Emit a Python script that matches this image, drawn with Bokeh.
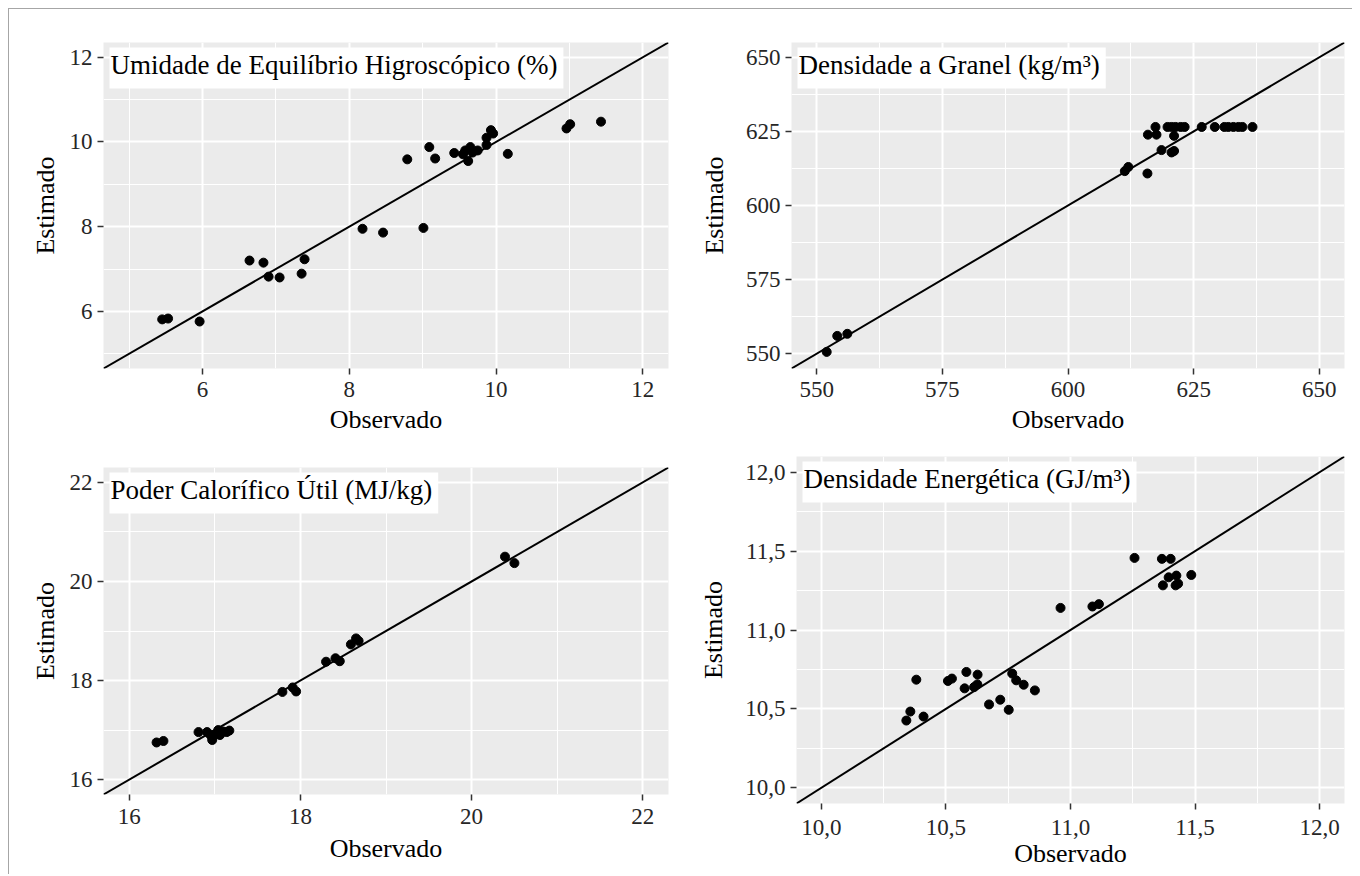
from bokeh.plotting import figure
from bokeh.layouts import column, row
from bokeh.models import Range1d, FixedTicker, Slope, Label, CustomJSTickFormatter
from bokeh.embed import file_html
from bokeh.resources import INLINE

# ---------------- data ----------------
ueh_obs = [5.45, 5.53, 5.96, 6.64, 6.83, 6.90, 7.05, 7.35, 7.39, 8.18, 8.46, 9.01,
           8.79, 9.09, 9.17, 9.43, 9.55, 9.58, 9.62, 9.65, 9.68, 9.75, 9.87, 9.87,
           9.93, 9.96, 10.16, 10.96, 11.01, 11.43]
ueh_est = [5.81, 5.83, 5.76, 7.20, 7.15, 6.82, 6.80, 6.89, 7.23, 7.95, 7.86, 7.97,
           9.59, 9.88, 9.61, 9.74, 9.71, 9.80, 9.55, 9.88, 9.75, 9.80, 9.93, 10.10,
           10.28, 10.20, 9.72, 10.32, 10.42, 10.48]

dg_obs = [552.0, 554.1, 556.1, 611.3, 612.0, 615.8, 615.9, 617.6, 617.4, 618.6,
          619.8, 620.6, 621.4, 622.4, 623.2, 621.1, 620.6, 621.1, 626.6, 629.2,
          631.1, 631.9, 632.9, 633.9, 634.7, 636.7]
dg_est = [550.6, 556.0, 556.7, 611.6, 613.0, 610.8, 623.9, 623.9, 626.5, 618.7,
          626.5, 626.5, 626.5, 626.5, 626.5, 623.5, 617.9, 618.4, 626.5, 626.5,
          626.5, 626.5, 626.5, 626.5, 626.5, 626.5]

pcu_obs = [16.32, 16.40, 16.81, 16.91, 16.95, 16.97, 17.00, 17.04, 17.06, 17.10,
           17.14, 17.17, 17.79, 17.91, 17.95, 18.30, 18.41, 18.46, 18.59, 18.65,
           18.68, 20.39, 20.50]
pcu_est = [16.75, 16.78, 16.96, 16.96, 16.90, 16.80, 16.91, 17.00, 16.90, 16.97,
           16.96, 16.99, 17.77, 17.86, 17.78, 18.38, 18.45, 18.39, 18.73, 18.85,
           18.80, 20.50, 20.37]

de_obs = [10.341, 10.357, 10.381, 10.410, 10.508, 10.524, 10.582, 10.575, 10.613,
          10.626, 10.627, 10.673, 10.718, 10.752, 10.766, 10.782, 10.812, 10.857,
          10.960, 11.088, 11.114, 11.257, 11.367, 11.402, 11.394, 11.425, 11.371,
          11.422, 11.432, 11.485]
de_est = [10.426, 10.483, 10.685, 10.451, 10.677, 10.692, 10.734, 10.630, 10.638,
          10.655, 10.717, 10.528, 10.558, 10.494, 10.724, 10.681, 10.653, 10.617,
          11.140, 11.149, 11.164, 11.457, 11.451, 11.451, 11.334, 11.345, 11.283,
          11.283, 11.294, 11.349]

titles = ["Umidade de Equilíbrio Higroscópico (%)",
          "Densidade a Granel (kg/m³)",
          "Poder Calorífico Útil (MJ/kg)",
          "Densidade Energética (GJ/m³)"]

ueh_limits = (5, 12)
dg_limits = (550, 650)
pcu_limits = (16, 22)
de_limits = (10, 12)

ueh_major = [6, 8, 10, 12]
ueh_minor = [5, 7, 9, 11]
dg_major = [550, 575, 600, 625, 650]
dg_minor = [562.5, 587.5, 612.5, 637.5]
pcu_major = [16, 18, 20, 22]
pcu_minor = [17, 19, 21]
de_major = [10.0, 10.5, 11.0, 11.5, 12.0]
de_minor = [10.25, 10.75, 11.25, 11.75]

FONT = "Liberation Serif"


def make_panel(obs, est, title, limits, major, minor, comma, width, height, borders,
               xstand, ystand):
    bl, br, bt, bb = borders
    lo, hi = limits
    pad = 0.05 * (hi - lo)
    r0, r1 = lo - pad, hi + pad
    p = figure(width=width, height=height, output_backend="svg", toolbar_location=None,
               x_range=Range1d(r0, r1), y_range=Range1d(r0, r1),
               min_border_left=bl, min_border_right=br, min_border_top=bt,
               min_border_bottom=bb, x_axis_label="Observado", y_axis_label="Estimado")
    p.background_fill_color = "#EBEBEB"
    p.border_fill_color = "white"
    p.outline_line_color = None

    for ax, grid in ((p.xaxis, p.xgrid), (p.yaxis, p.ygrid)):
        t = FixedTicker(ticks=major, minor_ticks=minor)
        ax.ticker = t
        grid.ticker = t
        grid.grid_line_color = "white"
        grid.grid_line_width = 2
        grid.minor_grid_line_color = "white"
        grid.minor_grid_line_width = 1
        ax.axis_line_color = None
        ax.major_tick_line_color = "#333333"
        ax.major_tick_line_width = 1.5
        ax.major_tick_out = 6
        ax.major_tick_in = 0
        ax.minor_tick_line_color = None
        ax.major_label_text_font = FONT
        ax.major_label_text_font_size = "23px"
        ax.major_label_text_color = "#262626"
        ax.axis_label_text_font = FONT
        ax.axis_label_text_font_size = "26px"
        ax.axis_label_text_font_style = "normal"
        ax.axis_label_text_color = "black"
        if comma:
            ax.formatter = CustomJSTickFormatter(code="return tick.toFixed(1).replace('.', ',');")
    p.xaxis.major_label_standoff = xstand[0]
    p.xaxis.axis_label_standoff = xstand[1]
    p.yaxis.major_label_standoff = 5
    p.yaxis.axis_label_standoff = ystand

    p.add_layout(Slope(gradient=1, y_intercept=0, line_color="black", line_width=2))
    p.scatter(obs, est, size=9, color="black")

    fw = width - bl - br
    fh = height - bt - bb
    ppx = fw / (r1 - r0)
    ppy = fh / (r1 - r0)
    lab = Label(x=r0 + 6 / ppx, y=r1 - 5 / ppy, text=title,
                text_font=FONT, text_font_size="27px", text_color="black",
                text_align="left", text_baseline="top",
                background_fill_color="white", padding=(1, 6, 2, 9))
    p.add_layout(lab)
    return p


p1 = make_panel(ueh_obs, ueh_est, titles[0], ueh_limits, ueh_major, ueh_minor, False,
                671, 431, (94, 12, 33, 72), (7, 5), 7)
p2 = make_panel(dg_obs, dg_est, titles[1], dg_limits, dg_major, dg_minor, False,
                672, 431, (111, 8, 33, 72), (7, 5), 14)
p3 = make_panel(pcu_obs, pcu_est, titles[2], pcu_limits, pcu_major, pcu_minor, False,
                671, 434, (94, 12, 27, 80), (8, 7), 7)
p4 = make_panel(de_obs, de_est, titles[3], de_limits, de_major, de_minor, True,
                672, 434, (116, 8, 16, 71), (10, 1), 14)

layout = column(row(column(p1), column(p2)), row(column(p3), column(p4)),
                margin=(8, 0, 0, 8),
                styles={"border-top": "1px solid #a6a6a6", "border-left": "1px solid #a6a6a6"})

open("out.html", "w").write(file_html(layout, INLINE))
